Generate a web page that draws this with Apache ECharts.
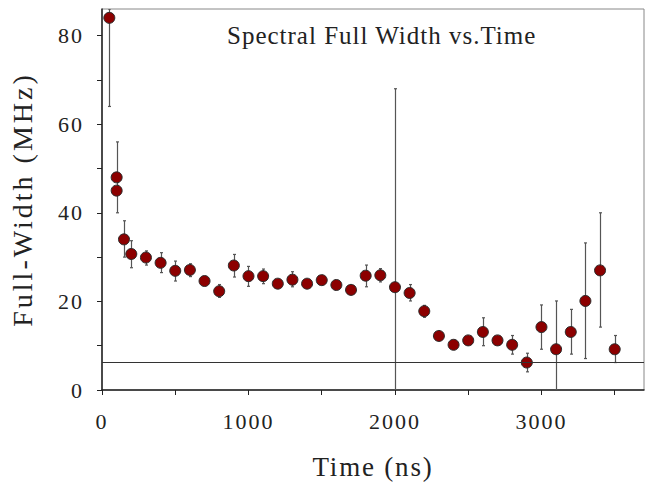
<!DOCTYPE html>
<html>
<head>
<meta charset="utf-8">
<script src="https://cdn.jsdelivr.net/npm/echarts@6/dist/echarts.min.js"></script>
<style>
html, body { margin: 0; padding: 0; background: #fff; }
#chart { width: 652px; height: 486px; }
#chart svg text { letter-spacing: 2px; }
#chart svg text[style*="25px"] { letter-spacing: 1px; }
#chart svg text[style*="28px"] { letter-spacing: 3px; }
#chart svg text[style*="27px"] { letter-spacing: 1.8px; }
</style>
</head>
<body>
<div id="chart"></div>
<script>
// ---- data ----
const times  = [50, 100, 100, 150, 200, 300, 400, 500, 600, 700, 800, 900, 1000, 1100, 1200, 1300, 1400, 1500, 1600, 1700, 1800, 1900, 2000, 2100, 2200, 2300, 2400, 2500, 2600, 2700, 2800, 2900, 3000, 3100, 3200, 3300, 3400, 3500];
const widths = [84, 48, 45, 34, 30.7, 29.9, 28.7, 26.9, 27.1, 24.6, 22.3, 28.1, 25.7, 25.7, 24.0, 24.9, 24.0, 24.8, 23.7, 22.6, 25.8, 25.9, 23.2, 21.9, 17.8, 12.2, 10.2, 11.2, 13.1, 11.2, 10.2, 6.2, 14.2, 9.2, 13.1, 20.1, 27.0, 9.2];
const errLow = [64, 45, 40, 30, 27.6, 28.2, 26.5, 24.6, 25.6, 23.8, 20.9, 25.5, 23.4, 24.0, 23.2, 23.3, 23.2, 24.0, 23.0, 22.0, 23.3, 24.4, 0, 20.1, 16.4, 11.5, 9.7, 10.6, 10.0, 10.6, 8.1, 4.1, 9.2, -1.7, 8.1, 7.1, 14.2, 6.2];
const errHigh= [104, 56, 48, 38.2, 33.7, 31.4, 31.0, 29.1, 28.5, 25.4, 23.8, 30.6, 27.9, 27.3, 24.8, 26.7, 24.8, 25.6, 24.4, 23.2, 28.2, 27.4, 68, 23.8, 19.1, 12.9, 10.7, 11.8, 16.3, 11.8, 12.3, 8.3, 19.2, 20.1, 18.2, 33.2, 40.0, 12.3];
const baselineValue = 6.3;
const xTickValues  = [0, 500, 1000, 1500, 2000, 2500, 3000, 3500];
const xLabelValues = [0, 1000, 2000, 3000];
const yTickValues  = [0, 10, 20, 30, 40, 50, 60, 70, 80];
const yLabelValues = [0, 20, 40, 60, 80];
const chartTitle = 'Spectral Full Width vs.Time';
const xName = 'Time (ns)';
const yName = 'Full-Width (MHz)';

const FONT = '"Liberation Serif", "Times New Roman", serif';

const points = times.map((t, i) => [t, widths[i]]);
const bars = times.map((t, i) => [t, errLow[i], errHigh[i]]);

const chart = echarts.init(document.getElementById('chart'), null, { renderer: 'svg' });

chart.setOption({
  animation: false,
  backgroundColor: '#ffffff',
  title: {
    text: chartTitle,
    left: 222,
    top: 18,
    textStyle: { fontFamily: FONT, fontSize: 25, fontWeight: 'normal', color: '#222' }
  },
  grid: {
    left: 101, top: 9, right: 8, bottom: 96,
    show: true, borderColor: '#888', borderWidth: 1, backgroundColor: 'transparent'
  },
  xAxis: {
    type: 'value',
    min: 0, max: 3700, interval: 500,
    name: xName,
    nameLocation: 'middle',
    nameGap: 63,
    nameTextStyle: { fontFamily: FONT, fontSize: 27, color: '#222' },
    axisLine: { show: true, onZero: false, lineStyle: { color: '#222', width: 1.5 } },
    axisTick: { show: true, inside: false, length: 5, customValues: xTickValues, lineStyle: { color: '#222' } },
    axisLabel: { customValues: xLabelValues, margin: 20, fontFamily: FONT, fontSize: 22, color: '#222',
                 formatter: function (v) { return String(v); } },
    splitLine: { show: false }
  },
  yAxis: {
    type: 'value',
    min: 0, max: 86, interval: 10,
    name: yName,
    nameLocation: 'middle',
    nameGap: 66,
    nameTextStyle: { fontFamily: FONT, fontSize: 28, color: '#222' },
    axisLine: { show: true, onZero: false, lineStyle: { color: '#222', width: 1.5 } },
    axisTick: { show: true, inside: false, length: 5, customValues: yTickValues, lineStyle: { color: '#222' } },
    axisLabel: { customValues: yLabelValues, margin: 18, fontFamily: FONT, fontSize: 22, color: '#222',
                 formatter: function (v) { return String(v); } },
    splitLine: { show: false }
  },
  series: [
    {
      type: 'custom',
      name: 'error',
      clip: true,
      data: bars,
      encode: { x: 0, y: [1, 2] },
      renderItem: function (params, api) {
        const x = api.value(0);
        const lo = api.coord([x, api.value(1)]);
        const hi = api.coord([x, api.value(2)]);
        const cs = params.coordSys;
        const top = Math.max(hi[1], cs.y);
        const bot = Math.min(lo[1], cs.y + cs.height);
        const px = Math.round(lo[0]) + 0.5;
        const style = { stroke: '#555', lineWidth: 1.2, fill: null };
        return {
          type: 'group',
          children: [
            { type: 'line', shape: { x1: px, y1: top, x2: px, y2: bot }, style: style },
            { type: 'line', shape: { x1: px - 1.5, y1: top, x2: px + 1.5, y2: top }, style: style },
            { type: 'line', shape: { x1: px - 1.5, y1: bot, x2: px + 1.5, y2: bot }, style: style }
          ]
        };
      },
      z: 2
    },
    {
      type: 'scatter',
      name: 'Full width',
      data: points,
      symbol: 'circle',
      symbolSize: 11,
      itemStyle: { color: '#8c0000', borderColor: '#2a2a2a', borderWidth: 1, opacity: 1 },
      markLine: {
        silent: true,
        symbol: ['none', 'none'],
        label: { show: false },
        lineStyle: { color: '#333', width: 1, type: 'solid' },
        data: [{ yAxis: baselineValue }]
      },
      z: 3
    }
  ]
});
</script>
</body>
</html>
